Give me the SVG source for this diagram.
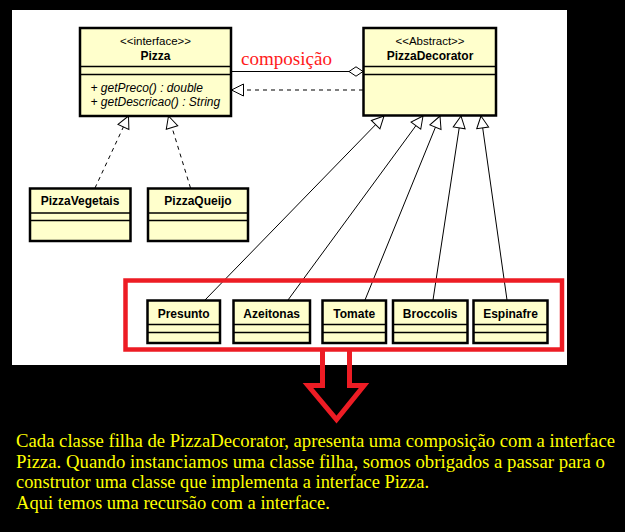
<svg xmlns="http://www.w3.org/2000/svg" width="625" height="532" viewBox="0 0 625 532">
<style>
.box{fill:#ffffcc;stroke:#000;stroke-width:2.5}
.sep{stroke:#000;stroke-width:1.5}
.st{font-family:"Liberation Sans",Arial,sans-serif;font-size:11.5px;text-anchor:middle;fill:#000}
.nm{font-family:"Liberation Sans",Arial,sans-serif;font-size:12px;font-weight:bold;text-anchor:middle;fill:#000}
.op{font-family:"Liberation Sans",Arial,sans-serif;font-size:12px;font-style:italic;fill:#000}
.ln{stroke:#000;stroke-width:1;fill:none}
.dash{stroke-dasharray:4 4}
.note{font-family:"Liberation Serif","Times New Roman",serif;font-size:18px;fill:#ffff00}
</style>
<defs>
<marker id="tri" markerUnits="userSpaceOnUse" markerWidth="16" markerHeight="16" viewBox="-14 -8 16 16" refX="0" refY="0" orient="auto">
<path d="M0,0 L-12,-6 L-12,6 Z" fill="#fff" stroke="#000" stroke-width="1" stroke-dasharray="none"/>
</marker>
<marker id="dia" markerUnits="userSpaceOnUse" markerWidth="18" markerHeight="12" viewBox="-16 -6 18 12" refX="0" refY="0" orient="auto">
<path d="M0,0 L-7,-4.7 L-14,0 L-7,4.7 Z" fill="#fff" stroke="#000" stroke-width="1"/>
</marker>
</defs>
<rect x="0" y="0" width="625" height="532" fill="#000"/>
<rect x="12" y="10" width="555" height="355" fill="#fff"/>

<g id="connectors">
<line class="ln" x1="231" y1="71.5" x2="363" y2="71.5" marker-end="url(#dia)"/>
<line class="ln dash" x1="363" y1="90" x2="231.5" y2="90" marker-end="url(#tri)"/>
<line class="ln dash" x1="95" y1="188" x2="128.5" y2="116" marker-end="url(#tri)"/>
<line class="ln dash" x1="190.5" y1="188" x2="168.5" y2="116" marker-end="url(#tri)"/>
<line class="ln" x1="205" y1="300" x2="384" y2="116" marker-end="url(#tri)"/>
<line class="ln" x1="288" y1="300" x2="423" y2="116" marker-end="url(#tri)"/>
<line class="ln" x1="365" y1="300" x2="440" y2="116" marker-end="url(#tri)"/>
<line class="ln" x1="433" y1="300" x2="461" y2="116" marker-end="url(#tri)"/>
<line class="ln" x1="507" y1="300" x2="481" y2="116" marker-end="url(#tri)"/>
</g>
<text x="241" y="65" font-family="'Liberation Serif','Times New Roman',serif" font-size="18.5" fill="#ff1a1a" textLength="91" lengthAdjust="spacingAndGlyphs">composição</text>

<g id="Pizza">
<rect class="box" x="80" y="28" width="151" height="88"/>
<line class="sep" x1="80" y1="66.5" x2="231" y2="66.5"/>
<line class="sep" x1="80" y1="74.5" x2="231" y2="74.5"/>
<text class="st" x="155.5" y="45">&lt;&lt;interface&gt;&gt;</text>
<text class="nm" x="155.5" y="60">Pizza</text>
<text class="op" x="90.5" y="91.5">+ getPreco() : double</text>
<text class="op" x="90.5" y="106">+ getDescricao() : String</text>
</g>

<g id="PizzaDecorator">
<rect class="box" x="363.5" y="28" width="132.5" height="87.5"/>
<line class="sep" x1="363.5" y1="66.5" x2="496" y2="66.5"/>
<line class="sep" x1="363.5" y1="74.5" x2="496" y2="74.5"/>
<text class="st" x="430" y="45">&lt;&lt;Abstract&gt;&gt;</text>
<text class="nm" x="430" y="60">PizzaDecorator</text>
</g>

<g id="PizzaVegetais">
<rect class="box" x="30" y="188.5" width="100.5" height="52.5"/>
<line class="sep" x1="30" y1="213" x2="130.5" y2="213"/>
<line class="sep" x1="30" y1="220.5" x2="130.5" y2="220.5"/>
<text class="nm" x="80" y="205">PizzaVegetais</text>
</g>

<g id="PizzaQueijo">
<rect class="box" x="148" y="188.5" width="100" height="52.5"/>
<line class="sep" x1="148" y1="213" x2="248" y2="213"/>
<line class="sep" x1="148" y1="220.5" x2="248" y2="220.5"/>
<text class="nm" x="198" y="205">PizzaQueijo</text>
</g>

<g id="Presunto">
<rect class="box" x="147.5" y="300.5" width="72.5" height="42.5"/>
<line class="sep" x1="147.5" y1="324.5" x2="220" y2="324.5"/>
<line class="sep" x1="147.5" y1="332.5" x2="220" y2="332.5"/>
<text class="nm" x="183.7" y="317.5">Presunto</text>
</g>
<g id="Azeitonas">
<rect class="box" x="233.5" y="300.5" width="76.5" height="42.5"/>
<line class="sep" x1="233.5" y1="324.5" x2="310" y2="324.5"/>
<line class="sep" x1="233.5" y1="332.5" x2="310" y2="332.5"/>
<text class="nm" x="271.7" y="317.5">Azeitonas</text>
</g>
<g id="Tomate">
<rect class="box" x="322.5" y="300.5" width="63.5" height="42.5"/>
<line class="sep" x1="322.5" y1="324.5" x2="386" y2="324.5"/>
<line class="sep" x1="322.5" y1="332.5" x2="386" y2="332.5"/>
<text class="nm" x="354.2" y="317.5">Tomate</text>
</g>
<g id="Broccolis">
<rect class="box" x="393" y="300.5" width="74.5" height="42.5"/>
<line class="sep" x1="393" y1="324.5" x2="467.5" y2="324.5"/>
<line class="sep" x1="393" y1="332.5" x2="467.5" y2="332.5"/>
<text class="nm" x="430.2" y="317.5">Broccolis</text>
</g>
<g id="Espinafre">
<rect class="box" x="473.5" y="300.5" width="74" height="42.5"/>
<line class="sep" x1="473.5" y1="324.5" x2="547.5" y2="324.5"/>
<line class="sep" x1="473.5" y1="332.5" x2="547.5" y2="332.5"/>
<text class="nm" x="510.5" y="317.5">Espinafre</text>
</g>

<rect x="125.5" y="280.5" width="436.5" height="69" fill="none" stroke="#ed1c24" stroke-width="4.5"/>
<polyline points="322.5,351 322.5,385.5 308,385.5 336.5,419.5 364,385.5 349.5,385.5 349.5,351" fill="none" stroke="#ed1c24" stroke-width="5" stroke-linejoin="miter"/>

<text class="note" x="16" y="446.5" textLength="599" lengthAdjust="spacingAndGlyphs">Cada classe filha de PizzaDecorator, apresenta uma composição com a interface</text>
<text class="note" x="16" y="467.5" textLength="589" lengthAdjust="spacingAndGlyphs">Pizza. Quando instanciamos uma classe filha, somos obrigados a passar para o</text>
<text class="note" x="16" y="488" textLength="413" lengthAdjust="spacingAndGlyphs">construtor uma classe que implementa a interface Pizza.</text>
<text class="note" x="16" y="508.5" textLength="314" lengthAdjust="spacingAndGlyphs">Aqui temos uma recursão com a interface.</text>
</svg>
